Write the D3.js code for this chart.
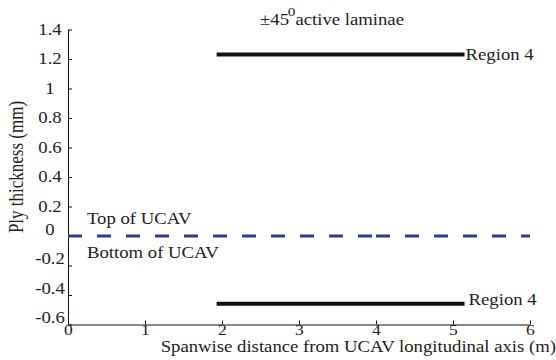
<!DOCTYPE html>
<html><head><meta charset="utf-8">
<script src="https://cdn.jsdelivr.net/npm/d3@7"></script>
<style>
body{margin:0;background:#fff;}
svg{display:block;}
text{font-family:"Liberation Serif","Times New Roman",serif;fill:#222;}
</style></head>
<body>
<svg id="c" width="556" height="360"></svg>
<script>
// ---- data ----
const xTicks = [0, 1, 2, 3, 4, 5, 6];
const yTicks = [1.4, 1.2, 1, 0.8, 0.6, 0.4, 0.2, 0, -0.2, -0.4, -0.6];
const yTickLabels = ["1.4", "1.2", "1", "0.8", "0.6", "0.4", "0.2", "0", "-0.2", "-0.4", "-0.6"];
const topRegionX = [1.93, 5.15];
const topRegionY = [1.23, 1.23];
const bottomRegionX = [1.93, 5.15];
const bottomRegionY = [-0.46, -0.46];
const midplaneAX = [0, 4];
const midplaneAY = [0, 0];
const midplaneBX = [4, 6];
const midplaneBY = [0, 0];
const regionLabels = ["Region 4", "Region 4"];
const annotations = ["Top of UCAV", "Bottom of UCAV"];
const xTitle = "Spanwise distance from UCAV longitudinal axis (m)";
const yTitle = "Ply thickness (mm)";

const SX = 1.17;   // horizontal stretch of the original figure's lettering
const FS = 16;

const svg = d3.select("#c");
const x = d3.scaleLinear().domain([0, 6]).range([68, 530]);
const y = d3.scaleLinear().domain([-0.6, 1.4]).range([324.5, 29.5]);

function label(px, py, str, anchor) {
  return svg.append("text")
    .attr("transform", `translate(${px},${py}) scale(${SX},1)`)
    .attr("text-anchor", anchor || "start")
    .attr("font-size", FS).text(str);
}

// axes
const xAxis = d3.axisBottom(x).tickValues(xTicks).tickSizeInner(-4).tickSizeOuter(0).tickPadding(0).tickFormat(d3.format("d"));
const gx = svg.append("g").attr("transform", `translate(0,${y(-0.6)})`).call(xAxis);
gx.select(".domain").attr("stroke", "#111");
gx.selectAll(".tick line").attr("stroke", "#111");
gx.selectAll(".tick text").attr("font-size", 15).attr("fill", "#222")
  .attr("font-family", "Liberation Serif").attr("y", 0).attr("dy", "0.7em")
  .attr("transform", `scale(${SX},1)`);

const yAxis = d3.axisLeft(y).tickValues(yTicks).tickSizeInner(-4).tickSizeOuter(0)
  .tickFormat((d, i) => yTickLabels[i]);
const gy = svg.append("g").attr("transform", `translate(${x(0)},0)`).call(yAxis);
gy.select(".domain").attr("stroke", "#111");
gy.selectAll(".tick line").attr("stroke", "#111");
gy.selectAll(".tick text").attr("font-size", FS).attr("fill", "#222")
  .attr("font-family", "Liberation Serif")
  .attr("text-anchor", "middle").attr("x", (50 - x(0)) / SX)
  .attr("transform", `scale(${SX},1)`)
  .attr("dy", d => d <= 0 ? "-0.1em" : "0.3em");

// lines
const line = d3.line().x(d => x(d[0])).y(d => y(d[1]));
const zip = (a, b) => a.map((v, i) => [v, b[i]]);

svg.append("path").datum(zip(midplaneAX, midplaneAY)).attr("d", line)
  .attr("fill", "none").attr("stroke", "#2e3a96").attr("stroke-width", 3).attr("stroke-dasharray", "14,15");
svg.append("path").datum(zip(midplaneBX, midplaneBY)).attr("d", line)
  .attr("fill", "none").attr("stroke", "#2e3a96").attr("stroke-width", 3).attr("stroke-dasharray", "14,15");

svg.append("path").datum(zip(topRegionX, topRegionY)).attr("d", line)
  .attr("fill", "none").attr("stroke", "#111").attr("stroke-width", 4);
svg.append("path").datum(zip(bottomRegionX, bottomRegionY)).attr("d", line)
  .attr("fill", "none").attr("stroke", "#111").attr("stroke-width", 4);

// region labels
label(x(topRegionX[1]) + 1, y(topRegionY[1]) + 5, regionLabels[0]);
label(x(bottomRegionX[1]) + 4, y(bottomRegionY[1]) + 1, regionLabels[1]);

// annotations
label(87, y(0) - 12, annotations[0]);
label(87, y(0) + 22, annotations[1]);

// title
const t = svg.append("text").attr("transform", `translate(260,25) scale(${SX},1)`).attr("font-size", FS);
t.append("tspan").text("±45");
t.append("tspan").attr("dx", -1).attr("dy", -9).attr("font-size", 13).text("0");
t.append("tspan").attr("dy", 9).text("active laminae");

// axis titles
label(556, 352, xTitle, "end");
svg.append("text").attr("transform", "translate(23,167) rotate(-90) scale(1,1.17)").attr("text-anchor", "middle")
  .attr("font-size", 17).text(yTitle);
</script>
</body></html>
